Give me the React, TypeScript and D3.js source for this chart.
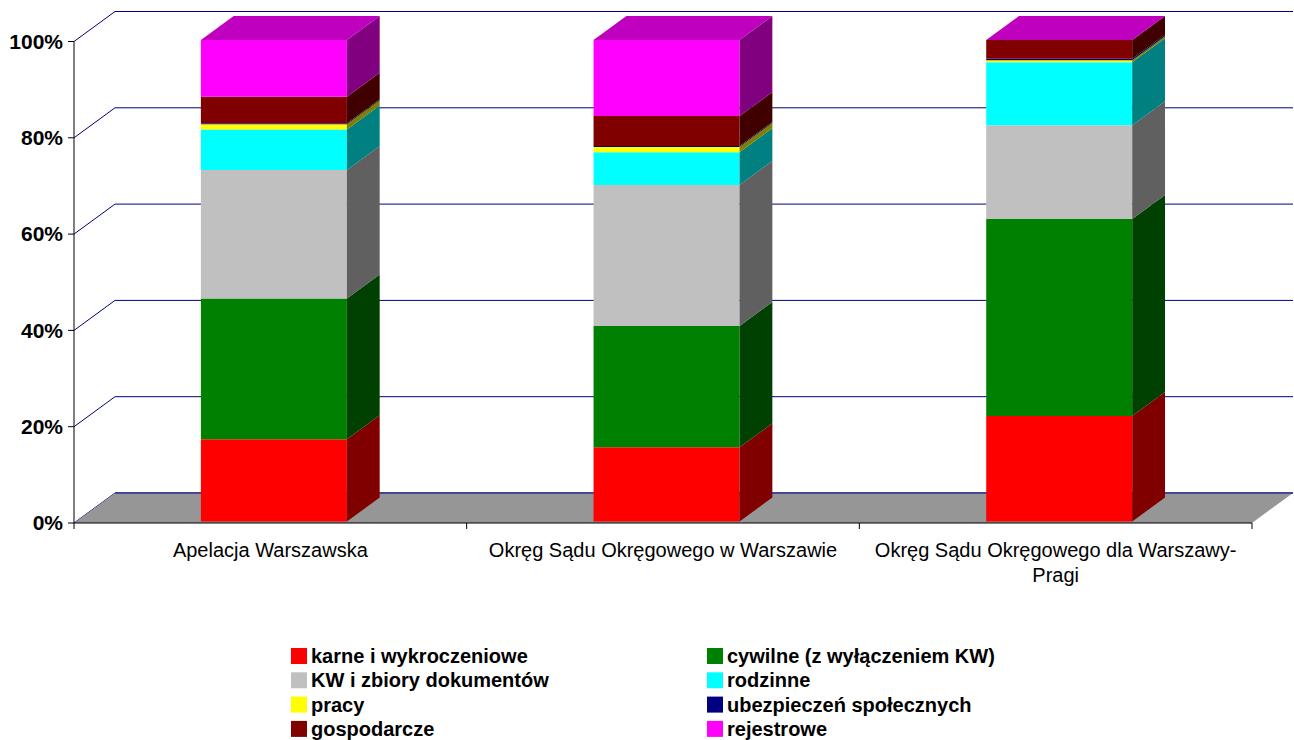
import * as d3 from 'd3'

const categories = ['Apelacja Warszawska', 'Okręg Sądu Okręgowego w Warszawie', 'Okręg Sądu Okręgowego dla Warszawy-Pragi']
const categoryLines = [['Apelacja Warszawska'], ['Okręg Sądu Okręgowego w Warszawie'], ['Okręg Sądu Okręgowego dla Warszawy-', 'Pragi']]

const seriesNames = [
  'karne i wykroczeniowe',
  'cywilne (z wyłączeniem KW)',
  'KW i zbiory dokumentów',
  'rodzinne',
  'pracy',
  'ubezpieczeń społecznych',
  'gospodarcze',
  'rejestrowe',
]
const seriesColors = ['#ff0000', '#008000', '#c0c0c0', '#00ffff', '#ffff00', '#000080', '#800000', '#ff00ff']

// percent of cases per category
const karne = [17.1, 15.4, 21.9]
const cywilne = [29.2, 25.2, 40.9]
const kw = [26.7, 29.3, 19.5]
const rodzinne = [8.4, 6.8, 13.1]
const pracy = [1.1, 1.1, 0.4]
const ubezpieczen = [0.2, 0.2, 0.3]
const gospodarcze = [5.5, 6.2, 3.9]
const rejestrowe = [11.8, 15.8, 0]

const yTicks = [0, 0.2, 0.4, 0.6, 0.8, 1]

const font = '"Liberation Sans", Arial, sans-serif'

export default function App() {
  const width = 1294
  const height = 740
  const allSeries = [karne, cywilne, kw, rodzinne, pracy, ubezpieczen, gospodarcze, rejestrowe]
  const rows = categories.map((c, i) => {
    const r: Record<string, number | string> = { category: c }
    seriesNames.forEach((s, j) => (r[s] = allSeries[j][i]))
    return r
  })
  const stacked = d3.stack<any>().keys(seriesNames).offset(d3.stackOffsetExpand)(rows)

  const x = d3.scaleBand().domain(categories).range([74, 1252])
  const y = d3.scaleLinear().domain([0, 1]).range([523, 41.5])
  const DX = 41
  const DY = -30
  const zf = 0.05
  const zb = 0.85
  const barW = 146
  const pt = (px: number, v: number, z: number) => `${px + z * DX},${y(v) + z * DY}`
  const darker = (c: string, k: number) => {
    const col = d3.rgb(c)
    return d3.rgb(col.r * k, col.g * k, col.b * k).formatHex()
  }

  return (
    <svg width={width} height={height} style={{ position: 'absolute', left: 0, top: 0, background: '#fff' }}>
      {/* back wall grid */}
      {yTicks.map(t => (
        <path
          key={t}
          d={`M${74},${y(t)} L${74 + DX},${y(t) + DY} L${1252 + DX},${y(t) + DY}`}
          fill="none"
          stroke="#000080"
          strokeWidth={1}
        />
      ))}
      {/* floor */}
      <polygon points={`${pt(74, 0, 0)} ${pt(1252, 0, 0)} ${pt(1252, 0, 1)} ${pt(74, 0, 1)}`} fill="#969696" />
      <line x1={74 + DX} x2={1252 + DX} y1={y(0) + DY} y2={y(0) + DY} stroke="#000080" />
      {/* axes */}
      <line x1={74} x2={74} y1={y(1)} y2={y(0)} stroke="#000" />
      <line x1={74} x2={1252} y1={y(0)} y2={y(0)} stroke="#000" />
      {yTicks.map(t => (
        <g key={t}>
          <line x1={68} x2={74} y1={y(t)} y2={y(t)} stroke="#000" />
          <text x={63} y={y(t)} dy="0.35em" textAnchor="end" fontFamily={font} fontWeight="bold" fontSize={21}>
            {d3.format('.0%')(t)}
          </text>
        </g>
      ))}
      {[0, 1, 2, 3].map(i => {
        const tx = 74 + i * x.step()
        return <line key={i} x1={tx} x2={tx} y1={y(0)} y2={y(0) + 6} stroke="#000" />
      })}
      {/* bars */}
      {categories.map((c, ci) => {
        const xl = x(c)! + x.bandwidth() / 2 - 71.5
        const xr = xl + barW
        return (
          <g key={c}>
            {stacked.map((s, si) => {
              const [v0, v1] = s[ci]
              const color = seriesColors[si]
              return (
                <g key={si}>
                  <polygon
                    points={`${pt(xl, v0, zf)} ${pt(xr, v0, zf)} ${pt(xr, v1, zf)} ${pt(xl, v1, zf)}`}
                    fill={color}
                  />
                  <polygon
                    points={`${pt(xr, v0, zf)} ${pt(xr, v0, zb)} ${pt(xr, v1, zb)} ${pt(xr, v1, zf)}`}
                    fill={darker(color, 0.5)}
                  />
                  {si === stacked.length - 1 && (
                    <polygon
                      points={`${pt(xl, v1, zf)} ${pt(xr, v1, zf)} ${pt(xr, v1, zb)} ${pt(xl, v1, zb)}`}
                      fill={darker(color, 0.75)}
                    />
                  )}
                </g>
              )
            })}
          </g>
        )
      })}
      {/* category labels */}
      {categories.map((c, ci) => (
        <text key={c} x={x(c)! + x.bandwidth() / 2} y={557} textAnchor="middle" fontFamily={font} fontSize={20}>
          {categoryLines[ci].map((l, li) => (
            <tspan key={li} x={x(c)! + x.bandwidth() / 2} dy={li === 0 ? 0 : 25}>
              {l}
            </tspan>
          ))}
        </text>
      ))}
      {/* legend */}
      {seriesNames.map((s, i) => {
        const lx = i % 2 === 0 ? 291 : 707
        const ly = 656 + Math.floor(i / 2) * 24.3
        return (
          <g key={s}>
            <rect x={lx} y={ly - 8} width={16} height={16} fill={seriesColors[i]} />
            <text x={lx + 20} y={ly} dy="0.35em" fontFamily={font} fontWeight="bold" fontSize={20}>
              {s}
            </text>
          </g>
        )
      })}
    </svg>
  )
}
